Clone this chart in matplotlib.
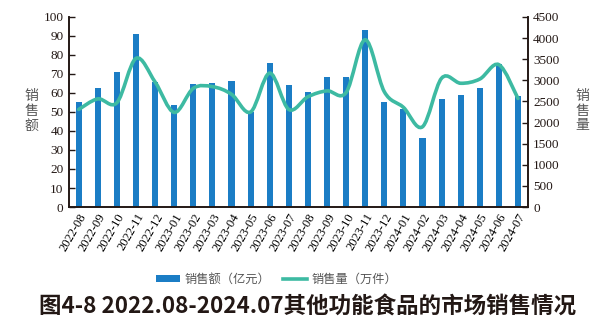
import numpy as np
import matplotlib
matplotlib.use("Agg")
import matplotlib.pyplot as plt
from matplotlib.path import Path
from matplotlib.patches import PathPatch
from matplotlib.lines import Line2D
from matplotlib.patches import Patch

months = ["2022-08", "2022-09", "2022-10", "2022-11", "2022-12", "2023-01",
          "2023-02", "2023-03", "2023-04", "2023-05", "2023-06", "2023-07",
          "2023-08", "2023-09", "2023-10", "2023-11", "2023-12", "2024-01",
          "2024-02", "2024-03", "2024-04", "2024-05", "2024-06", "2024-07"]
# 销售额 (亿元)
sales_amount = [55.2, 62.5, 71.0, 90.8, 66.0, 53.5, 64.5, 65.5, 66.5, 50.0, 76.0, 64.0,
                60.5, 68.3, 68.3, 93.2, 55.2, 51.4, 36.1, 56.8, 58.8, 62.8, 75.1, 58.3]
# 销售量 (万件)
sales_volume = [2310, 2560, 2470, 3520, 2960, 2240, 2810, 2850, 2670, 2250, 3170, 2310,
                2610, 2750, 2710, 3960, 2730, 2360, 1900, 3050, 2930, 3030, 3370, 2570]

bar_color = "#1b7dc5"
line_color = "#3dbaa2"
cjk = ["Noto Sans CJK SC", "DejaVu Sans"]
plt.rcParams["font.family"] = ["Liberation Serif", "DejaVu Serif"]

fig = plt.figure(figsize=(6.12, 3.26), dpi=100)
ax = fig.add_axes([0.113, 0.365, 0.749, 0.583])
x = np.arange(len(months))
ax.bar(x, sales_amount, width=0.32, color=bar_color, zorder=2)
ax.set_xlim(-0.5, len(months) - 0.5)
ax.set_ylim(0, 100)
ax.set_yticks(range(0, 101, 10))
ax.set_xticks(x)
ax.set_xticklabels(months, rotation=60, ha="right", rotation_mode="anchor", fontsize=9)
ax.tick_params(axis="x", length=0, pad=3)
ax.tick_params(axis="y", direction="in", length=4, width=1, color="#231815", pad=4,
               labelsize=9.5, labelcolor="#231815")
for side in ["left", "bottom", "right"]:
    ax.spines[side].set_color("#231815")
    ax.spines[side].set_linewidth(1.2)
ax.spines["top"].set_visible(False)

ax2 = ax.twinx()
ax2.set_ylim(0, 4500)
ax2.set_yticks(range(0, 4501, 500))
ax2.tick_params(axis="y", direction="in", length=4, width=1, color="#231815", pad=4,
                labelsize=9.5, labelcolor="#231815")
for side in ["left", "bottom", "right"]:
    ax2.spines[side].set_color("#231815")
    ax2.spines[side].set_linewidth(1.2)
ax2.spines["top"].set_visible(False)

# smoothed line (Catmull-Rom -> cubic bezier), like excel's smooth line
pts = np.column_stack([x, sales_volume]).astype(float)
verts = [tuple(pts[0])]
codes = [Path.MOVETO]
n = len(pts)
for i in range(n - 1):
    p0 = pts[i - 1] if i > 0 else pts[i]
    p1 = pts[i]
    p2 = pts[i + 1]
    p3 = pts[i + 2] if i + 2 < n else pts[i + 1]
    c1 = p1 + (p2 - p0) / 6.0
    c2 = p2 - (p3 - p1) / 6.0
    verts += [tuple(c1), tuple(c2), tuple(p2)]
    codes += [Path.CURVE4] * 3
ax2.add_patch(PathPatch(Path(verts, codes), facecolor="none", edgecolor=line_color,
                        lw=2.6, capstyle="round", zorder=3))

fig.text(0.052, 0.66, "销\n售\n额", family=cjk, fontsize=10, color="#555555",
         ha="center", va="center", linespacing=1.05)
fig.text(0.952, 0.66, "销\n售\n量", family=cjk, fontsize=10, color="#555555",
         ha="center", va="center", linespacing=1.05)

handles = [Patch(facecolor=bar_color), Line2D([0], [0], color=line_color, lw=2.6)]
leg = fig.legend(handles, ["销售额（亿元）", "销售量（万件）"], loc="center",
                 bbox_to_anchor=(0.452, 0.143), ncol=2, frameon=False,
                 prop={"family": cjk, "size": 8.8}, handlelength=2.0,
                 handleheight=0.6, columnspacing=1.0, handletextpad=0.35)
for t in leg.get_texts():
    t.set_color("#555555")

fig.text(0.503, 0.058, "图4-8 2022.08-2024.07其他功能食品的市场销售情况", family=cjk,
         fontsize=16.2, fontweight="bold", color="#231815", ha="center", va="center")

fig.savefig("out.png", dpi=100)
